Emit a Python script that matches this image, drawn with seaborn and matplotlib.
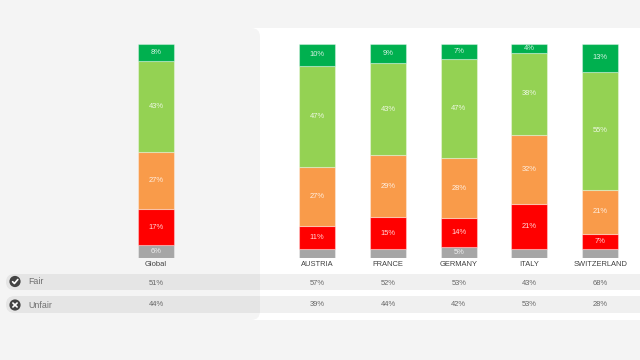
import matplotlib
matplotlib.use("Agg")
import matplotlib.pyplot as plt
from matplotlib.patches import Rectangle, FancyBboxPatch, Circle
import numpy as np
import seaborn as sns

sns.set_style("white")
plt.rcParams['font.family'] = ['Liberation Sans', 'DejaVu Sans']

global_cat = ["Global"]
countries = ["AUSTRIA", "FRANCE", "GERMANY", "ITALY", "SWITZERLAND"]

very_unfair_g = [6]
unfair_g = [17]
neutral_g = [27]
fair_g = [43]
very_fair_g = [8]

very_unfair_c = [4, 4, 5, 4, 4]
unfair_c = [11, 15, 14, 21, 7]
neutral_c = [27, 29, 28, 32, 21]
fair_c = [47, 43, 47, 38, 55]
very_fair_c = [10, 9, 7, 4, 13]

fair_row_g = ["51%"]
unfair_row_g = ["44%"]
fair_row_c = ["57%", "52%", "53%", "43%", "68%"]
unfair_row_c = ["39%", "44%", "42%", "53%", "28%"]
row_names = ["Fair", "Unfair"]

colors = ["#a6a6a6", "#ff0000", "#f99b4a", "#94d253", "#00b04f"]
W, H = 640, 360

fig = plt.figure(figsize=(6.4, 3.6), dpi=100, facecolor="#f4f4f4")

bg = fig.add_axes([0, 0, 1, 1], zorder=0)
bg.set_xlim(0, W); bg.set_ylim(H, 0); bg.axis("off")
bg.add_patch(Rectangle((240, 28), 400, 292, fc="white", ec="none"))
bg.add_patch(FancyBboxPatch((-20, 28), 280, 292, boxstyle="round,pad=0,rounding_size=9",
                            fc="#f4f4f4", ec="none"))
for y0, y1 in [(274, 290), (296, 313)]:
    bg.add_patch(FancyBboxPatch((6, y0), 660, y1 - y0,
                                boxstyle=f"round,pad=0,rounding_size={(y1 - y0) / 2}",
                                fc="black", alpha=0.06, ec="none"))
for yc, name, mark in zip([281.5, 305], row_names, ["check", "x"]):
    bg.add_patch(Circle((15, yc), 5.6, fc="#444444", ec="none"))
    if mark == "check":
        bg.plot([12.6, 14.4, 17.8], [yc + 0.2, yc + 2, yc - 2], color="white", lw=1.2)
    else:
        bg.plot([12.9, 17.1], [yc - 2, yc + 2], color="white", lw=1.2)
        bg.plot([12.9, 17.1], [yc + 2, yc - 2], color="white", lw=1.2)
    bg.text(28, yc + 0.3, name, color="#707070", fontsize=6.4, va="center", ha="left")


def stacked(rect, cats, series, rows):
    ax = fig.add_axes(rect, zorder=2)
    ax.patch.set_alpha(0)
    arr = np.array(series, dtype=float)
    shares = arr / arr.sum(axis=0)
    bottom = np.zeros(len(cats))
    for i, (vals, share, col) in enumerate(zip(arr, shares, colors)):
        sns.barplot(x=cats, y=share, bottom=bottom, color=col, saturation=1, width=0.51,
                    edgecolor=(1, 1, 1, 0.35), linewidth=0.8, ax=ax)
        labels = ["" if (i == 0 and v < 5) else f"{v:.0f}%" for v in vals]
        ax.bar_label(ax.containers[-1], labels=labels, label_type="center",
                     color="white", alpha=0.85, fontsize=5.4)
        bottom = bottom + share
    ax.set_xlim(-0.5, len(cats) - 0.5)
    ax.set_ylim(0, 1)
    ax.set_yticks([])
    ax.tick_params(axis="x", length=0, pad=1.8, labelsize=5.4, labelcolor="#404040")
    sns.despine(ax=ax, left=True, bottom=True)
    ax.grid(False)
    tr = ax.get_xaxis_transform()
    for row, y in zip(rows, [-0.117, -0.215]):
        for k, s in enumerate(row):
            ax.text(k, y, s, transform=tr, ha="center", va="center",
                    fontsize=5.4, color="#666666", clip_on=False)
    return ax


top, bot = 44, 258
h = (bot - top) / H
y0 = 1 - bot / H
stacked([120.6 / W, y0, 70.75 / W, h], global_cat,
        [very_unfair_g, unfair_g, neutral_g, fair_g, very_fair_g],
        [fair_row_g, unfair_row_g])
stacked([281.8 / W, y0, 353.75 / W, h], countries,
        [very_unfair_c, unfair_c, neutral_c, fair_c, very_fair_c],
        [fair_row_c, unfair_row_c])

fig.savefig("out.png", dpi=100, facecolor=fig.get_facecolor())
